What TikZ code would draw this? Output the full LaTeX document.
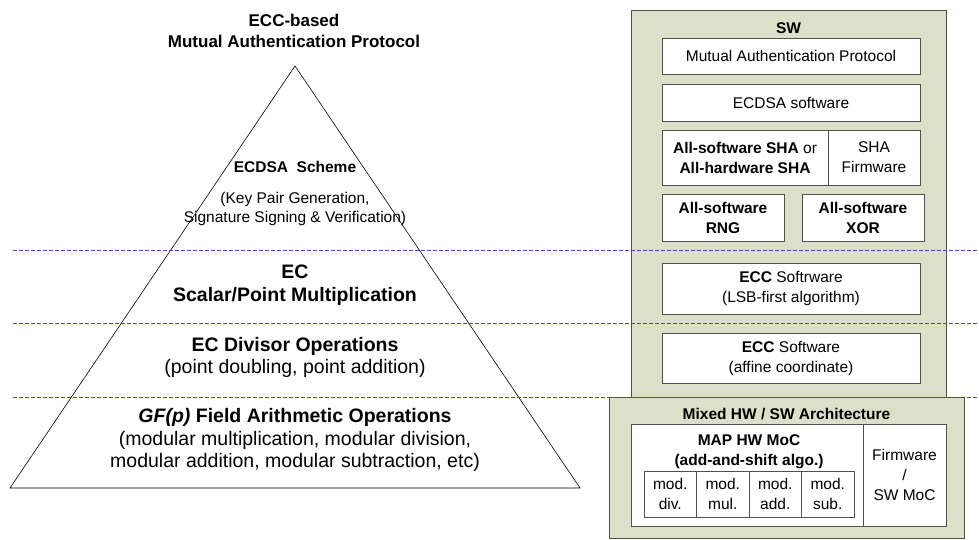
\documentclass[tikz,border=0pt]{standalone}
\usepackage{fontspec}
\setmainfont{Liberation Sans}
\definecolor{panelgreen}{RGB}{221,224,200}
\definecolor{edgegrey}{RGB}{80,80,80}
\definecolor{layerblue}{RGB}{70,70,190}
\newcommand\fsTitle{\fontsize{17bp}{21bp}\selectfont\bfseries}
\newcommand\fsMid{\fontsize{15.5bp}{19bp}\selectfont}
\newcommand\fsBig{\fontsize{19.5bp}{22.5bp}\selectfont}
\newcommand\fsBox{\fontsize{15.5bp}{20bp}\selectfont}
\tikzset{
  panel/.style={draw=edgegrey, fill=panelgreen, line width=0.9bp, inner sep=0pt},
  cell/.style={draw=edgegrey, fill=white, line width=0.9bp, inner sep=0pt, align=center, font=\fsBox},
  label/.style={inner sep=0pt, align=center},
  layerline/.style={draw=layerblue, line width=0.8bp, dash pattern=on 4bp off 2bp},
  pyramid/.style={draw=black, line width=0.6bp},
}
\begin{document}
\begin{tikzpicture}[x=1bp, y=-1bp]
\useasboundingbox (0,0) rectangle (979,540);

% ---------- pyramid of protocol layers ----------
\coordinate (apex) at (295,66);
\coordinate (baseL) at (10,488);
\coordinate (baseR) at (580,488);
\draw[pyramid] (apex) -- (baseR) -- (baseL) -- cycle;

\node[label, font=\fsTitle] (title) at (294,31) {ECC-based\\Mutual Authentication Protocol};
\node[label, font=\fsMid] (ecdsa) at (295,167) {\bfseries ECDSA~~Scheme};
\node[label, font=\fsMid] (ecdsasub) at (295,208.5) {(Key Pair Generation,\\Signature Signing \& Verification)};
\node[label, font=\fsBig\bfseries] (ecmul) at (295,285) {EC\\Scalar/Point Multiplication};
\node[label, font=\fsBig] (ecdiv) at (295,357.5) {\textbf{EC Divisor Operations}\\(point doubling, point addition)};
\node[label, font=\fsBig] (gfp) at (295,440) {\textbf{\itshape GF(p)} \textbf{Field Arithmetic Operations}\\(modular multiplication, modular division,\\modular addition, modular subtraction, etc)};

% ---------- software stack ----------
\node[panel, minimum width=315bp, minimum height=387bp] (swpanel) at (788.5,203.5) {};
\node[label, font=\fsBox\bfseries] (swtitle) at (788.5,28) {SW};
\node[cell, minimum width=258bp, minimum height=36bp] (map) at (791,56) {Mutual Authentication Protocol};
\node[cell, minimum width=258bp, minimum height=37bp] (ecdsasw) at (791,102.5) {ECDSA software};
\node[cell, minimum width=166bp, minimum height=55bp] (sha) at (745,157.5) {\textbf{All-software SHA} or\\\textbf{All-hardware SHA}};
\node[cell, minimum width=92bp, minimum height=55bp] (shafw) at (874,157.5) {SHA\\Firmware};
\node[cell, minimum width=122bp, minimum height=47bp, font=\fsBox\bfseries] (rng) at (723,217.5) {All-software\\RNG};
\node[cell, minimum width=122bp, minimum height=47bp, font=\fsBox\bfseries] (xor) at (863,217.5) {All-software\\XOR};
\node[cell, minimum width=258bp, minimum height=51bp] (eccmul) at (791,288.5) {\textbf{ECC} Softrware\\(LSB-first algorithm)};
\node[cell, minimum width=258bp, minimum height=50bp] (eccdiv) at (791,358) {\textbf{ECC} Software\\(affine coordinate)};

% ---------- mixed hardware / software layer ----------
\node[panel, minimum width=355bp, minimum height=141bp] (mixpanel) at (786.5,467.5) {};
\node[label, font=\fsBox\bfseries] (mixtitle) at (786.5,414) {Mixed HW / SW Architecture};
\node[cell, minimum width=232bp, minimum height=102bp] (hwmoc) at (747,475) {};
\node[cell, minimum width=83bp, minimum height=102bp] (swmoc) at (904.5,475) {Firmware\\/\\SW MoC};
\node[label, font=\fsBox\bfseries] (hwmoctext) at (749,452) {MAP HW MoC\\(add-and-shift algo.)};
\node[cell, minimum width=52.5bp, minimum height=46bp] (mdiv) at (670.25,494) {mod.\\div.};
\node[cell, minimum width=52.5bp, minimum height=46bp] (mmul) at (722.75,494) {mod.\\mul.};
\node[cell, minimum width=52.5bp, minimum height=46bp] (madd) at (775.25,494) {mod.\\add.};
\node[cell, minimum width=52.5bp, minimum height=46bp] (msub) at (827.75,494) {mod.\\sub.};

% ---------- layer boundaries ----------
\coordinate (l1a) at (13,250);  \coordinate (l1b) at (979,250);
\coordinate (l2a) at (13,323);  \coordinate (l2b) at (979,323);
\coordinate (l3a) at (13,397);  \coordinate (l3b) at (979,397);
\draw[layerline] (l1a) -- (l1b);
\draw[layerline] (l2a) -- (l2b);
\draw[layerline] (l3a) -- (l3b);
\end{tikzpicture}
\end{document}
